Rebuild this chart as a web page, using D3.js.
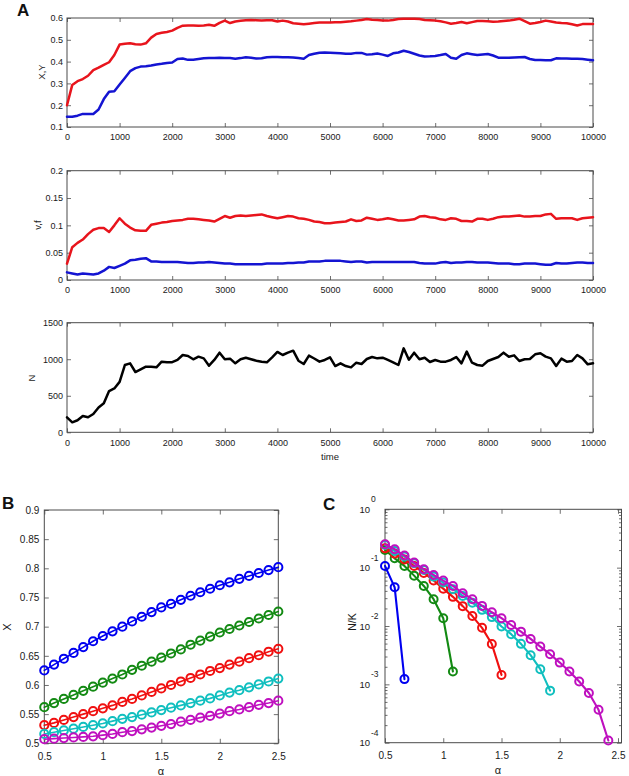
<!DOCTYPE html>
<html><head><meta charset="utf-8">
<script src="https://cdn.jsdelivr.net/npm/d3@7"></script>
<style>body{margin:0;background:#fff}svg{display:block}text{font-family:"Liberation Sans",Arial,sans-serif}</style>
</head><body>
<script>
// ---------- DATA ----------
const time = d3.range(0, 10001, 100);
const xyRed = [
0.200,0.293,0.310,0.320,0.335,0.361,0.372,0.385,0.397,0.430,
0.478,0.482,0.484,0.480,0.478,0.484,0.510,0.527,0.532,0.536,
0.542,0.555,0.565,0.566,0.566,0.565,0.566,0.569,0.564,0.578,
0.588,0.577,0.584,0.587,0.590,0.591,0.590,0.588,0.590,0.590,
0.584,0.588,0.584,0.576,0.574,0.571,0.574,0.577,0.579,0.579,
0.579,0.580,0.581,0.583,0.585,0.588,0.591,0.595,0.592,0.591,
0.589,0.588,0.591,0.595,0.597,0.597,0.597,0.595,0.591,0.590,
0.588,0.585,0.580,0.574,0.577,0.582,0.576,0.581,0.586,0.586,
0.585,0.583,0.584,0.586,0.588,0.592,0.597,0.586,0.574,0.577,
0.582,0.588,0.584,0.579,0.577,0.576,0.571,0.566,0.572,0.572,
0.572];
const xyBlue = [
0.147,0.147,0.152,0.160,0.160,0.160,0.180,0.228,0.262,0.264,
0.295,0.325,0.356,0.370,0.377,0.379,0.382,0.387,0.390,0.394,
0.396,0.412,0.414,0.408,0.409,0.412,0.415,0.416,0.417,0.418,
0.417,0.416,0.413,0.416,0.420,0.418,0.414,0.415,0.420,0.421,
0.421,0.420,0.420,0.419,0.416,0.413,0.430,0.436,0.441,0.442,
0.441,0.440,0.438,0.436,0.436,0.440,0.440,0.432,0.434,0.437,
0.432,0.426,0.438,0.442,0.450,0.444,0.436,0.428,0.423,0.424,
0.426,0.430,0.435,0.418,0.413,0.430,0.438,0.434,0.430,0.433,
0.435,0.428,0.418,0.418,0.418,0.419,0.420,0.421,0.412,0.407,
0.407,0.406,0.406,0.415,0.414,0.414,0.413,0.413,0.412,0.409,
0.406];
const vfRed = [
0.030,0.060,0.068,0.074,0.084,0.092,0.095,0.095,0.088,0.100,
0.113,0.103,0.096,0.091,0.090,0.090,0.101,0.103,0.105,0.106,
0.108,0.109,0.110,0.112,0.112,0.111,0.110,0.109,0.107,0.112,
0.117,0.114,0.117,0.118,0.117,0.118,0.119,0.120,0.117,0.115,
0.113,0.115,0.117,0.116,0.113,0.112,0.110,0.107,0.106,0.104,
0.104,0.105,0.106,0.107,0.111,0.108,0.109,0.114,0.112,0.110,
0.111,0.113,0.111,0.109,0.109,0.110,0.111,0.116,0.117,0.115,
0.114,0.111,0.110,0.113,0.112,0.108,0.108,0.107,0.112,0.112,
0.110,0.112,0.115,0.116,0.116,0.117,0.118,0.116,0.116,0.117,
0.117,0.120,0.121,0.112,0.113,0.113,0.113,0.110,0.113,0.114,
0.115];
const vfBlue = [
0.014,0.012,0.010,0.012,0.011,0.010,0.012,0.017,0.024,0.022,
0.026,0.030,0.036,0.037,0.039,0.040,0.034,0.034,0.033,0.033,
0.033,0.033,0.032,0.031,0.031,0.032,0.032,0.033,0.032,0.031,
0.030,0.030,0.029,0.029,0.029,0.029,0.029,0.029,0.030,0.030,
0.030,0.030,0.031,0.031,0.032,0.032,0.034,0.034,0.034,0.035,
0.035,0.035,0.035,0.034,0.033,0.034,0.034,0.032,0.033,0.033,
0.033,0.033,0.033,0.033,0.033,0.033,0.033,0.031,0.030,0.030,
0.030,0.032,0.033,0.031,0.032,0.032,0.033,0.033,0.032,0.032,
0.032,0.031,0.030,0.030,0.030,0.029,0.029,0.030,0.030,0.030,
0.029,0.028,0.028,0.031,0.030,0.030,0.031,0.032,0.032,0.031,
0.031];
const nPop = [
205,137,165,223,205,251,340,397,565,600,
690,921,944,825,862,898,896,889,967,958,
960,990,1058,1044,999,1035,1012,912,990,1090,
999,1008,944,1000,1021,1000,980,965,958,1026,
1100,1058,1090,1117,980,935,1049,1010,967,990,
1026,907,944,907,889,953,935,1003,1030,1012,
1021,990,958,921,1149,994,1090,999,1021,962,
990,967,967,990,1030,944,1104,953,921,912,
976,1003,1030,1090,1035,1053,976,999,1003,1067,
1081,1035,1012,907,1008,967,976,1058,1012,930,
944];

const alpha = [0.5,0.583,0.667,0.75,0.833,0.917,1,1.083,1.167,1.25,1.333,1.417,1.5,1.583,1.667,1.75,1.833,1.917,2,2.083,2.167,2.25,2.333,2.417,2.5];
const bBlue    = [0.625,0.635,0.645,0.655,0.665,0.675,0.684,0.692,0.700,0.709,0.717,0.725,0.733,0.739,0.746,0.753,0.759,0.765,0.771,0.776,0.782,0.787,0.792,0.797,0.802];
const bGreen   = [0.562,0.569,0.576,0.583,0.590,0.597,0.604,0.611,0.618,0.626,0.633,0.640,0.647,0.654,0.661,0.669,0.676,0.683,0.690,0.696,0.702,0.708,0.714,0.720,0.726];
const bRed     = [0.531,0.535,0.540,0.545,0.550,0.555,0.560,0.565,0.571,0.576,0.582,0.588,0.594,0.600,0.606,0.612,0.618,0.624,0.629,0.635,0.640,0.646,0.651,0.657,0.662];
const bCyan    = [0.516,0.519,0.522,0.525,0.528,0.531,0.534,0.538,0.542,0.545,0.549,0.553,0.557,0.561,0.565,0.569,0.573,0.577,0.582,0.587,0.591,0.596,0.601,0.606,0.611];
const bMagenta = [0.507,0.508,0.509,0.510,0.511,0.512,0.514,0.516,0.519,0.521,0.524,0.527,0.530,0.533,0.537,0.540,0.544,0.547,0.551,0.555,0.558,0.562,0.566,0.569,0.573];

const cBlue    = [0.107,0.046,0.00123];
const cGreen   = [0.201,0.1445,0.107,0.073,0.0486,0.0288,0.0136,0.00166];
const cRed     = [0.214,0.174,0.138,0.107,0.0813,0.0603,0.0437,0.0316,0.0219,0.0148,0.0093,0.0049,0.00145];
const cCyan    = [0.245,0.193,0.155,0.119,0.0912,0.0702,0.0555,0.0427,0.0327,0.0251,0.0189,0.0142,0.0098,0.00724,0.00494,0.00316,0.00182,0.00078];
const cMagenta = [0.251,0.2065,0.161,0.122,0.094,0.075,0.060,0.0486,0.0365,0.0288,0.0221,0.0172,0.0136,0.0104,0.0080,0.0060,0.00444,0.00329,0.00236,0.00166,0.00112,0.00071,0.000366,0.000109];

const timeTicks = d3.range(0, 10001, 1000);
const xyTicks = [0.1,0.2,0.3,0.4,0.5,0.6];
const vfTicks = [0,0.05,0.1,0.15,0.2];
const nTicks = [0,500,1000,1500];
const bXTicks = [0.5,1,1.5,2,2.5];
const bYTicks = [0.5,0.55,0.6,0.65,0.7,0.75,0.8,0.85,0.9];
const cYMajor = [1,1e-1,1e-2,1e-3,1e-4];
const cYExp = ["0","-1","-2","-3","-4"];

// ---------- DRAWING ----------
const FR = "#4a4a4a";
const FONT = '"Liberation Sans", Arial, sans-serif';
const svg = d3.select("body").append("svg").attr("width",629).attr("height",776);
svg.append("rect").attr("width",629).attr("height",776).attr("fill","#fff");

function frame(x, y, o) {
  const g = svg.append("g");
  const [xa, xb] = x.range();
  const [yb, ya] = y.range();
  const tl = o.tl || 4;
  const ax = (gen, tr, vals, fmt, pad, size) => {
    const a = g.append("g").attr("transform", tr)
      .call(gen.tickValues(vals).tickFormat(fmt).tickSizeInner(size).tickSizeOuter(0).tickPadding(pad));
    a.select(".domain").remove();
    a.selectAll("line").attr("stroke", FR).attr("stroke-width", 0.8);
    a.selectAll("text").attr("font-size", o.fs).attr("font-family", FONT).attr("fill", "#1a1a1a");
    return a;
  };
  ax(d3.axisBottom(x), `translate(0,${yb})`, o.xt, o.xf, o.xpad, -tl);
  ax(d3.axisTop(x), `translate(0,${ya})`, o.xt, () => "", 0, -tl);
  ax(d3.axisLeft(y), `translate(${xa},0)`, o.yt, o.yf, o.ypad, -tl);
  ax(d3.axisRight(y), `translate(${xb},0)`, o.yt, () => "", 0, -tl);
  if (o.yminor) {
    ax(d3.axisLeft(y), `translate(${xa},0)`, o.yminor, () => "", 0, -2.5);
    ax(d3.axisRight(y), `translate(${xb},0)`, o.yminor, () => "", 0, -2.5);
  }
  g.append("rect").attr("x", xa).attr("y", ya).attr("width", xb - xa).attr("height", yb - ya)
    .attr("fill", "none").attr("stroke", FR).attr("stroke-width", 1);
  return g;
}
function label(txt, x, y, fs, opts = {}) {
  const t = svg.append("text").attr("x", x).attr("y", y).attr("font-size", fs)
    .attr("font-family", FONT).attr("fill", opts.fill || "#1a1a1a")
    .attr("text-anchor", opts.anchor || "middle").text(txt);
  if (opts.bold) t.attr("font-weight", "bold");
  if (opts.rot) t.attr("transform", `rotate(-90,${x},${y})`);
  return t;
}
function tline(x, y, xs, ys, color, w) {
  svg.append("path").datum(xs.map((d, i) => [d, ys[i]]))
    .attr("d", d3.line().x(d => x(d[0])).y(d => y(d[1])))
    .attr("fill", "none").attr("stroke", color).attr("stroke-width", w)
    .attr("stroke-linejoin", "round").attr("stroke-linecap", "round");
}
function markers(x, y, xs, ys, color, r, lw) {
  tline(x, y, xs, ys, color, lw);
  svg.append("g").selectAll("circle").data(ys).join("circle")
    .attr("cx", (d, i) => x(xs[i])).attr("cy", d => y(d)).attr("r", r)
    .attr("fill", "none").attr("stroke", color).attr("stroke-width", 2);
}

const RED = "#e8141c", BLUE = "#1414d2";
const xT = d3.scaleLinear().domain([0, 10000]).range([67, 593]);
const fmtT = d3.format("d");

// Panel A top
const yXY = d3.scaleLinear().domain([0.1, 0.6]).range([127, 18]);
frame(xT, yXY, {xt: timeTicks, xf: fmtT, yt: xyTicks, yf: d3.format(".1f"), fs: 9, xpad: 7, ypad: 4});
tline(xT, yXY, time, xyRed, RED, 2.5);
tline(xT, yXY, time, xyBlue, BLUE, 2.5);
label("X,Y", 45, 72, 9.5, {rot: true});

// Panel A middle
const yVF = d3.scaleLinear().domain([0, 0.2]).range([280, 170.7]);
frame(xT, yVF, {xt: timeTicks, xf: fmtT, yt: vfTicks, yf: d => d === 0 ? "0" : String(d), fs: 9, xpad: 7, ypad: 4});
tline(xT, yVF, time, vfRed, RED, 2.5);
tline(xT, yVF, time, vfBlue, BLUE, 2.5);
label("v,f", 41, 225, 9.5, {rot: true});

// Panel A bottom
const yN = d3.scaleLinear().domain([0, 1500]).range([432.3, 322.7]);
frame(xT, yN, {xt: timeTicks, xf: fmtT, yt: nTicks, yf: fmtT, fs: 9, xpad: 7, ypad: 4});
tline(xT, yN, time, nPop, "#000", 2.5);
label("N", 35, 378, 9.5, {rot: true});
label("time", 330, 460, 9.5);
label("A", 17, 16, 17, {bold: true, anchor: "start", fill: "#111"});

// Panel B
const xB = d3.scaleLinear().domain([0.5, 2.5]).range([44.3, 278.3]);
const yB = d3.scaleLinear().domain([0.5, 0.9]).range([743.3, 510]);
frame(xB, yB, {xt: bXTicks, xf: d => String(d), yt: bYTicks, yf: d => String(+d.toFixed(2)), fs: 10, xpad: 9.5, ypad: 5, tl: 4.5});
const bCols = ["#0000f0", "#138a13", "#f01010", "#10bfbf", "#bf10bf"];
[bBlue, bGreen, bRed, bCyan, bMagenta].forEach((s, i) => markers(xB, yB, alpha, s, bCols[i], 4.1, 1.6));
label("X", 11, 627, 11, {rot: true});
label("α", 161, 775, 11);
label("B", 2, 509, 17, {bold: true, anchor: "start", fill: "#111"});

// Panel C
const xC = d3.scaleLinear().domain([0.5, 2.53]).range([385, 621.5]);
const yC = d3.scaleLog().domain([1e-4, 1]).range([742.7, 509.3]);
const minors = [];
[1e-4, 1e-3, 1e-2, 1e-1].forEach(b => [2,3,4,5,6,7,8,9].forEach(m => minors.push(b * m)));
frame(xC, yC, {xt: bXTicks, xf: d => String(d), yt: cYMajor, yf: () => "", fs: 10, xpad: 9, ypad: 4, tl: 4.5, yminor: minors});
cYMajor.forEach((v, i) => {
  label("10", 370, yC(v) + 3.5, 9.5, {anchor: "end"});
  label(cYExp[i], 371, yC(v) - 7, 8.5, {anchor: "start"});
});
const cSeries = [cBlue, cGreen, cRed, cCyan, cMagenta];
cSeries.forEach((s, i) => markers(xC, yC, alpha.slice(0, s.length), s, bCols[i], 4, 2.1));
label("N/K", 356, 622, 10.5, {rot: true});
label("α", 498, 774, 11);
label("C", 323, 510, 17, {bold: true, anchor: "start", fill: "#111"});
</script>
</body></html>
